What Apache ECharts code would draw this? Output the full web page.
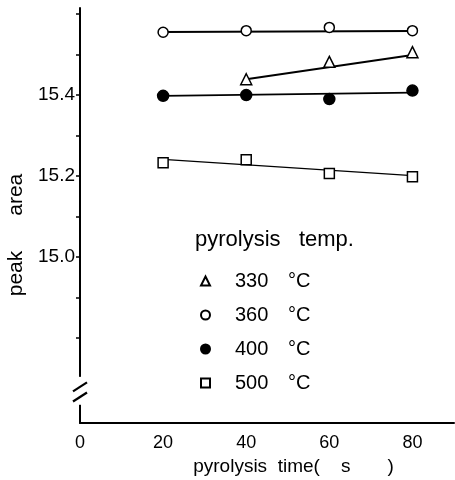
<!DOCTYPE html>
<html>
<head>
<meta charset="utf-8">
<script src="https://cdn.jsdelivr.net/npm/echarts@6/dist/echarts.min.js"></script>
<style>html,body{margin:0;padding:0;background:#fff;}#c{width:455px;height:480px;}</style>
</head>
<body>
<div id="c"></div>
<script>
// ---- data ----
const times = [20, 40, 60, 80];
const tempLabels = ['330', '360', '400', '500'];
const area330 = [null, 15.439, 15.482, 15.506];
const area360 = [15.555, 15.559, 15.567, 15.559];
const area400 = [15.398, 15.400, 15.390, 15.411];
const area500 = [15.233, 15.240, 15.206, 15.198];
// fitted straight lines (end points)
const fitX330 = [40, 80], fitY330 = [15.439, 15.499];
const fitX360 = [20, 80], fitY360 = [15.556, 15.558];
const fitX400 = [20, 80], fitY400 = [15.398, 15.406];
const fitX500 = [20, 80], fitY500 = [15.241, 15.201];
const xTickLabels = [0, 20, 40, 60, 80];
const yTickLabels = [15.0, 15.2, 15.4];
const yTicks = [14.8, 14.9, 15.0, 15.1, 15.2, 15.3, 15.4, 15.5, 15.6];
const breakFrom = 14.635, breakTo = 14.704;

const FONT = 'Liberation Sans';
const pairs = (xs, ys) => xs.map((x, i) => [x, ys[i]]);

const chart = echarts.init(document.getElementById('c'), null, {renderer: 'canvas'});

const markers = [
  {name: tempLabels[0], data: pairs(times, area330).filter(d => d[1] != null), symbol: 'triangle', fill: '#fff', size: 11},
  {name: tempLabels[1], data: pairs(times, area360), symbol: 'circle', fill: '#fff', size: 10},
  {name: tempLabels[2], data: pairs(times, area400), symbol: 'circle', fill: '#000', size: 11},
  {name: tempLabels[3], data: pairs(times, area500), symbol: 'rect', fill: '#fff', size: 10}
];
const fits = [
  {x: fitX330, y: fitY330, w: 2},
  {x: fitX360, y: fitY360, w: 2},
  {x: fitX400, y: fitY400, w: 1.6},
  {x: fitX500, y: fitY500, w: 1.4}
];

const series = [];
fits.forEach(f => series.push({
  type: 'line', data: pairs(f.x, f.y), showSymbol: false, symbol: 'none',
  lineStyle: {color: '#000', width: f.w}, silent: true, z: 2, legendHoverLink: false
}));
markers.forEach(m => series.push({
  type: 'scatter', name: m.name, data: m.data, symbol: m.symbol, symbolSize: m.size,
  itemStyle: {color: m.fill, borderColor: '#000', borderWidth: 1.5, opacity: 1}, z: 3
}));

chart.setOption({
  animation: false,
  backgroundColor: '#fff',
  title: {
    text: 'pyrolysis   temp.', left: 195, top: 229, padding: 0,
    textStyle: {fontFamily: FONT, fontSize: 22, fontWeight: 'normal', color: '#000'}
  },
  legend: {
    orient: 'vertical', left: 195, top: 266, itemWidth: 9, itemHeight: 9, itemGap: 14,
    data: tempLabels,
    formatter: n => '{s|}{a|' + n + '}{b|°C}',
    textStyle: {
      fontFamily: FONT, fontSize: 20, color: '#000', lineHeight: 20,
      rich: {
        s: {width: 20},
        a: {width: 53, fontFamily: FONT, fontSize: 20, color: '#000'},
        b: {fontFamily: FONT, fontSize: 20, color: '#000'}
      }
    },
    selectedMode: false
  },
  grid: {left: 80, top: 8, width: 374, height: 415, containLabel: false, outerBoundsMode: 'none'},
  xAxis: {
    type: 'value', min: 0, max: 90,
    axisLine: {show: true, lineStyle: {color: '#000', width: 2}},
    axisTick: {show: false},
    splitLine: {show: false},
    axisLabel: {customValues: xTickLabels, fontFamily: FONT, fontSize: 18, color: '#000', margin: 11},
    name: 'pyrolysis  time(    s       )', nameLocation: 'middle', nameGap: 34,
    nameTextStyle: {fontFamily: FONT, fontSize: 19, color: '#000', padding: [0, 0, 0, 53]}
  },
  yAxis: {
    type: 'value', min: 14.590, max: 15.615,
    axisLine: {show: true, lineStyle: {color: '#000', width: 2}},
    axisTick: {show: true, customValues: yTicks, length: 4, inside: false, lineStyle: {color: '#000', width: 1.5}},
    splitLine: {show: false},
    axisLabel: {customValues: yTickLabels, formatter: v => v.toFixed(1), fontFamily: FONT, fontSize: 19, color: '#000', margin: 5},
    name: 'peak      area', nameLocation: 'middle', nameGap: 45,
    nameTextStyle: {fontFamily: FONT, fontSize: 21, color: '#000', padding: [0, 39, 0, 0]}
  },
  series: series
});

// axis break marks on the y axis
const ax = chart.convertToPixel({xAxisIndex: 0}, 0);
const yTop = chart.convertToPixel({yAxisIndex: 0}, breakTo);
const yBot = chart.convertToPixel({yAxisIndex: 0}, breakFrom);
const gap = yBot - yTop;
const c1 = yTop + gap * 0.36, c2 = yTop + gap * 0.72;
chart.setOption({
  graphic: [
    {type: 'rect', shape: {x: ax - 3, y: yTop, width: 6, height: gap}, style: {fill: '#fff'}, z: 100},
    {type: 'line', shape: {x1: ax - 7, y1: c1 + 4.5, x2: ax + 7, y2: c1 - 4.5}, style: {stroke: '#000', lineWidth: 2.2}, z: 101},
    {type: 'line', shape: {x1: ax - 7, y1: c2 + 4.5, x2: ax + 7, y2: c2 - 4.5}, style: {stroke: '#000', lineWidth: 2.2}, z: 101}
  ]
});
</script>
</body>
</html>
